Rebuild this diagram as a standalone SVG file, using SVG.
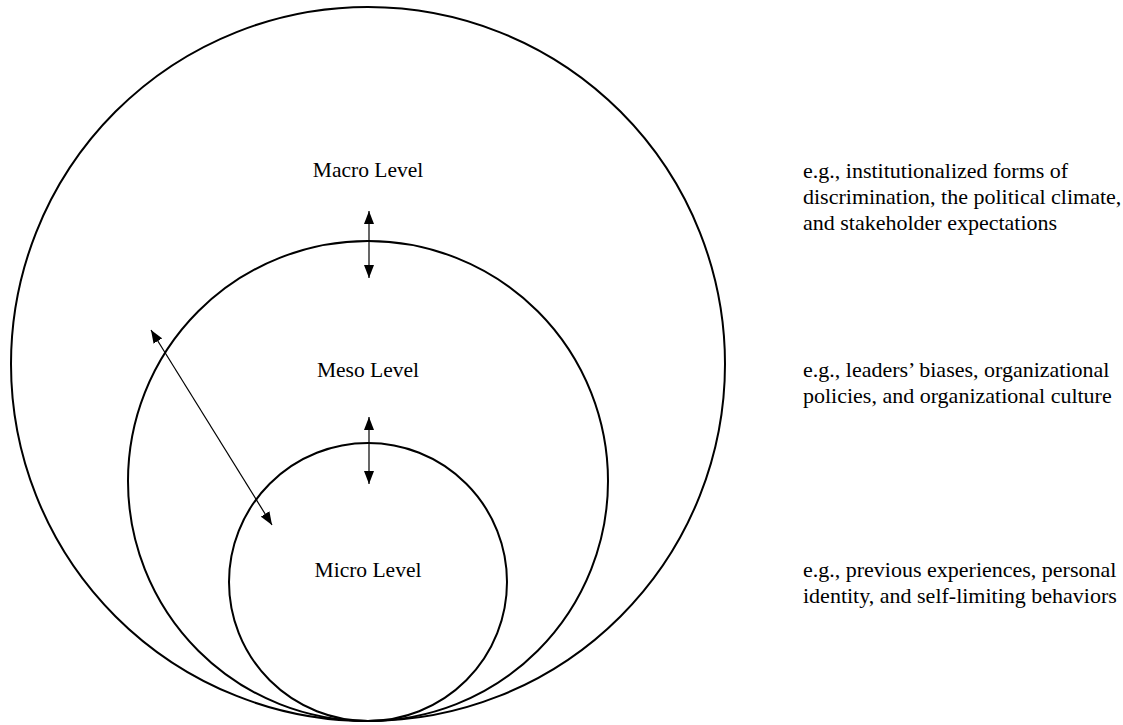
<svg xmlns="http://www.w3.org/2000/svg" width="1123" height="725" viewBox="0 0 1123 725">
<style>
.ring{fill:none;stroke:#000;stroke-width:2}
.lbl{font-family:"Liberation Serif","Times New Roman",serif;font-size:21.5px;fill:#000}
.desc{font-size:22px}
.c{text-anchor:middle}
.arr{stroke:#000;stroke-width:1.2;fill:none;marker-start:url(#ah);marker-end:url(#ah)}
</style>
<defs>
<marker id="ah" viewBox="0 0 13 10" refX="13" refY="5" markerWidth="13" markerHeight="10" markerUnits="userSpaceOnUse" orient="auto-start-reverse">
<path d="M0,0 L13,5 L0,10 Z" fill="#000"/>
</marker>
</defs>
<rect width="1123" height="725" fill="#fff"/>
<g id="macro">
<circle class="ring" cx="368" cy="364" r="357"/>
<text class="lbl c" x="368" y="177">Macro Level</text>
</g>
<g id="meso">
<circle class="ring" cx="368" cy="481" r="240"/>
<text class="lbl c" x="368" y="377">Meso Level</text>
</g>
<g id="micro">
<circle class="ring" cx="368" cy="582" r="139"/>
<text class="lbl c" x="368" y="577">Micro Level</text>
</g>
<g id="connectors">
<line class="arr" x1="369" y1="211" x2="369" y2="278"/>
<line class="arr" x1="369" y1="417" x2="369" y2="484"/>
<line class="arr" x1="151" y1="330" x2="272" y2="525"/>
</g>
<g id="macro-desc">
<text class="lbl desc" x="803" y="178">e.g., institutionalized forms of</text>
<text class="lbl desc" x="803" y="204">discrimination, the political climate,</text>
<text class="lbl desc" x="803" y="230">and stakeholder expectations</text>
</g>
<g id="meso-desc">
<text class="lbl desc" x="803" y="377">e.g., leaders’ biases, organizational</text>
<text class="lbl desc" x="803" y="403">policies, and organizational culture</text>
</g>
<g id="micro-desc">
<text class="lbl desc" x="803" y="577">e.g., previous experiences, personal</text>
<text class="lbl desc" x="803" y="603">identity, and self-limiting behaviors</text>
</g>
</svg>
